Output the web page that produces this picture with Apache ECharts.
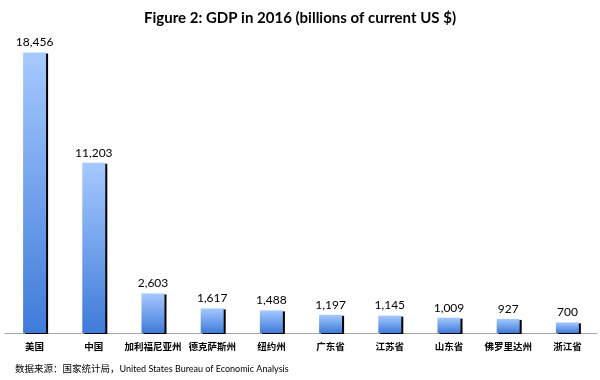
<!DOCTYPE html>
<html><head><meta charset="utf-8">
<script src="https://cdn.jsdelivr.net/npm/echarts@6/dist/echarts.min.js"></script>
<style>html,body{margin:0;padding:0;background:#fff}#c{width:600px;height:380px}</style>
</head><body><div id="c"></div>
<script>
var categories = ['美国','中国','加利福尼亚州','德克萨斯州','纽约州','广东省','江苏省','山东省','佛罗里达州','浙江省'];
var gdp = [18456, 11203, 2603, 1617, 1488, 1197, 1145, 1009, 927, 700];
var titleText = 'Figure 2: GDP in 2016 (billions of current US $)';
var sourceCn = '数据来源：国家统计局，';
var sourceEn = 'United States Bureau of Economic Analysis';

var chart = echarts.init(document.getElementById('c'), null, {renderer:'canvas'});
chart.setOption({
  animation: false,
  title: {
    text: titleText, left: 'center', top: 6,
    textStyle: {fontFamily: 'Lato, "Open Sans", sans-serif', fontWeight: 'bold', fontSize: 15, color: '#000'}
  },
  graphic: [{
    type: 'text', left: 15, top: 364,
    style: {
      text: '{cn|' + sourceCn + '}{en|' + sourceEn + '}',
      rich: {
        cn: {fontSize: 9.5, fontFamily: '"Noto Sans CJK SC", sans-serif', fill: '#000', color: '#000'},
        en: {fontSize: 9, fontFamily: 'Lato, "Open Sans", sans-serif', fill: '#000', color: '#000'}
      }
    }
  }],
  grid: {left: 5, right: 3, top: 29, bottom: 47},
  xAxis: {
    type: 'category', data: categories,
    axisLine: {lineStyle: {color: '#a6a6a6', width: 1}},
    axisTick: {show: false},
    axisLabel: {interval: 0, margin: 9, color: '#000', fontSize: 9.5, fontWeight: 'bold',
      fontFamily: '"Noto Sans CJK SC", sans-serif'}
  },
  yAxis: {type: 'value', min: 0, max: 20000, show: false, splitLine: {show: false}},
  series: [{
    type: 'bar', data: gdp, barWidth: 23,
    itemStyle: {
      color: new echarts.graphic.LinearGradient(0,0,0,1,[{offset:0,color:'#a6c9ff'},{offset:1,color:'#3f7bd9'}]),
      shadowColor: '#000', shadowOffsetX: 2, shadowOffsetY: 1, shadowBlur: 0
    },
    label: {
      show: true, position: 'top', distance: 4, color: '#000', fontSize: 12,
      fontFamily: 'Lato, "Open Sans", sans-serif',
      formatter: function(p){ return p.value.toLocaleString('en-US'); }
    }
  }]
});
</script></body></html>
